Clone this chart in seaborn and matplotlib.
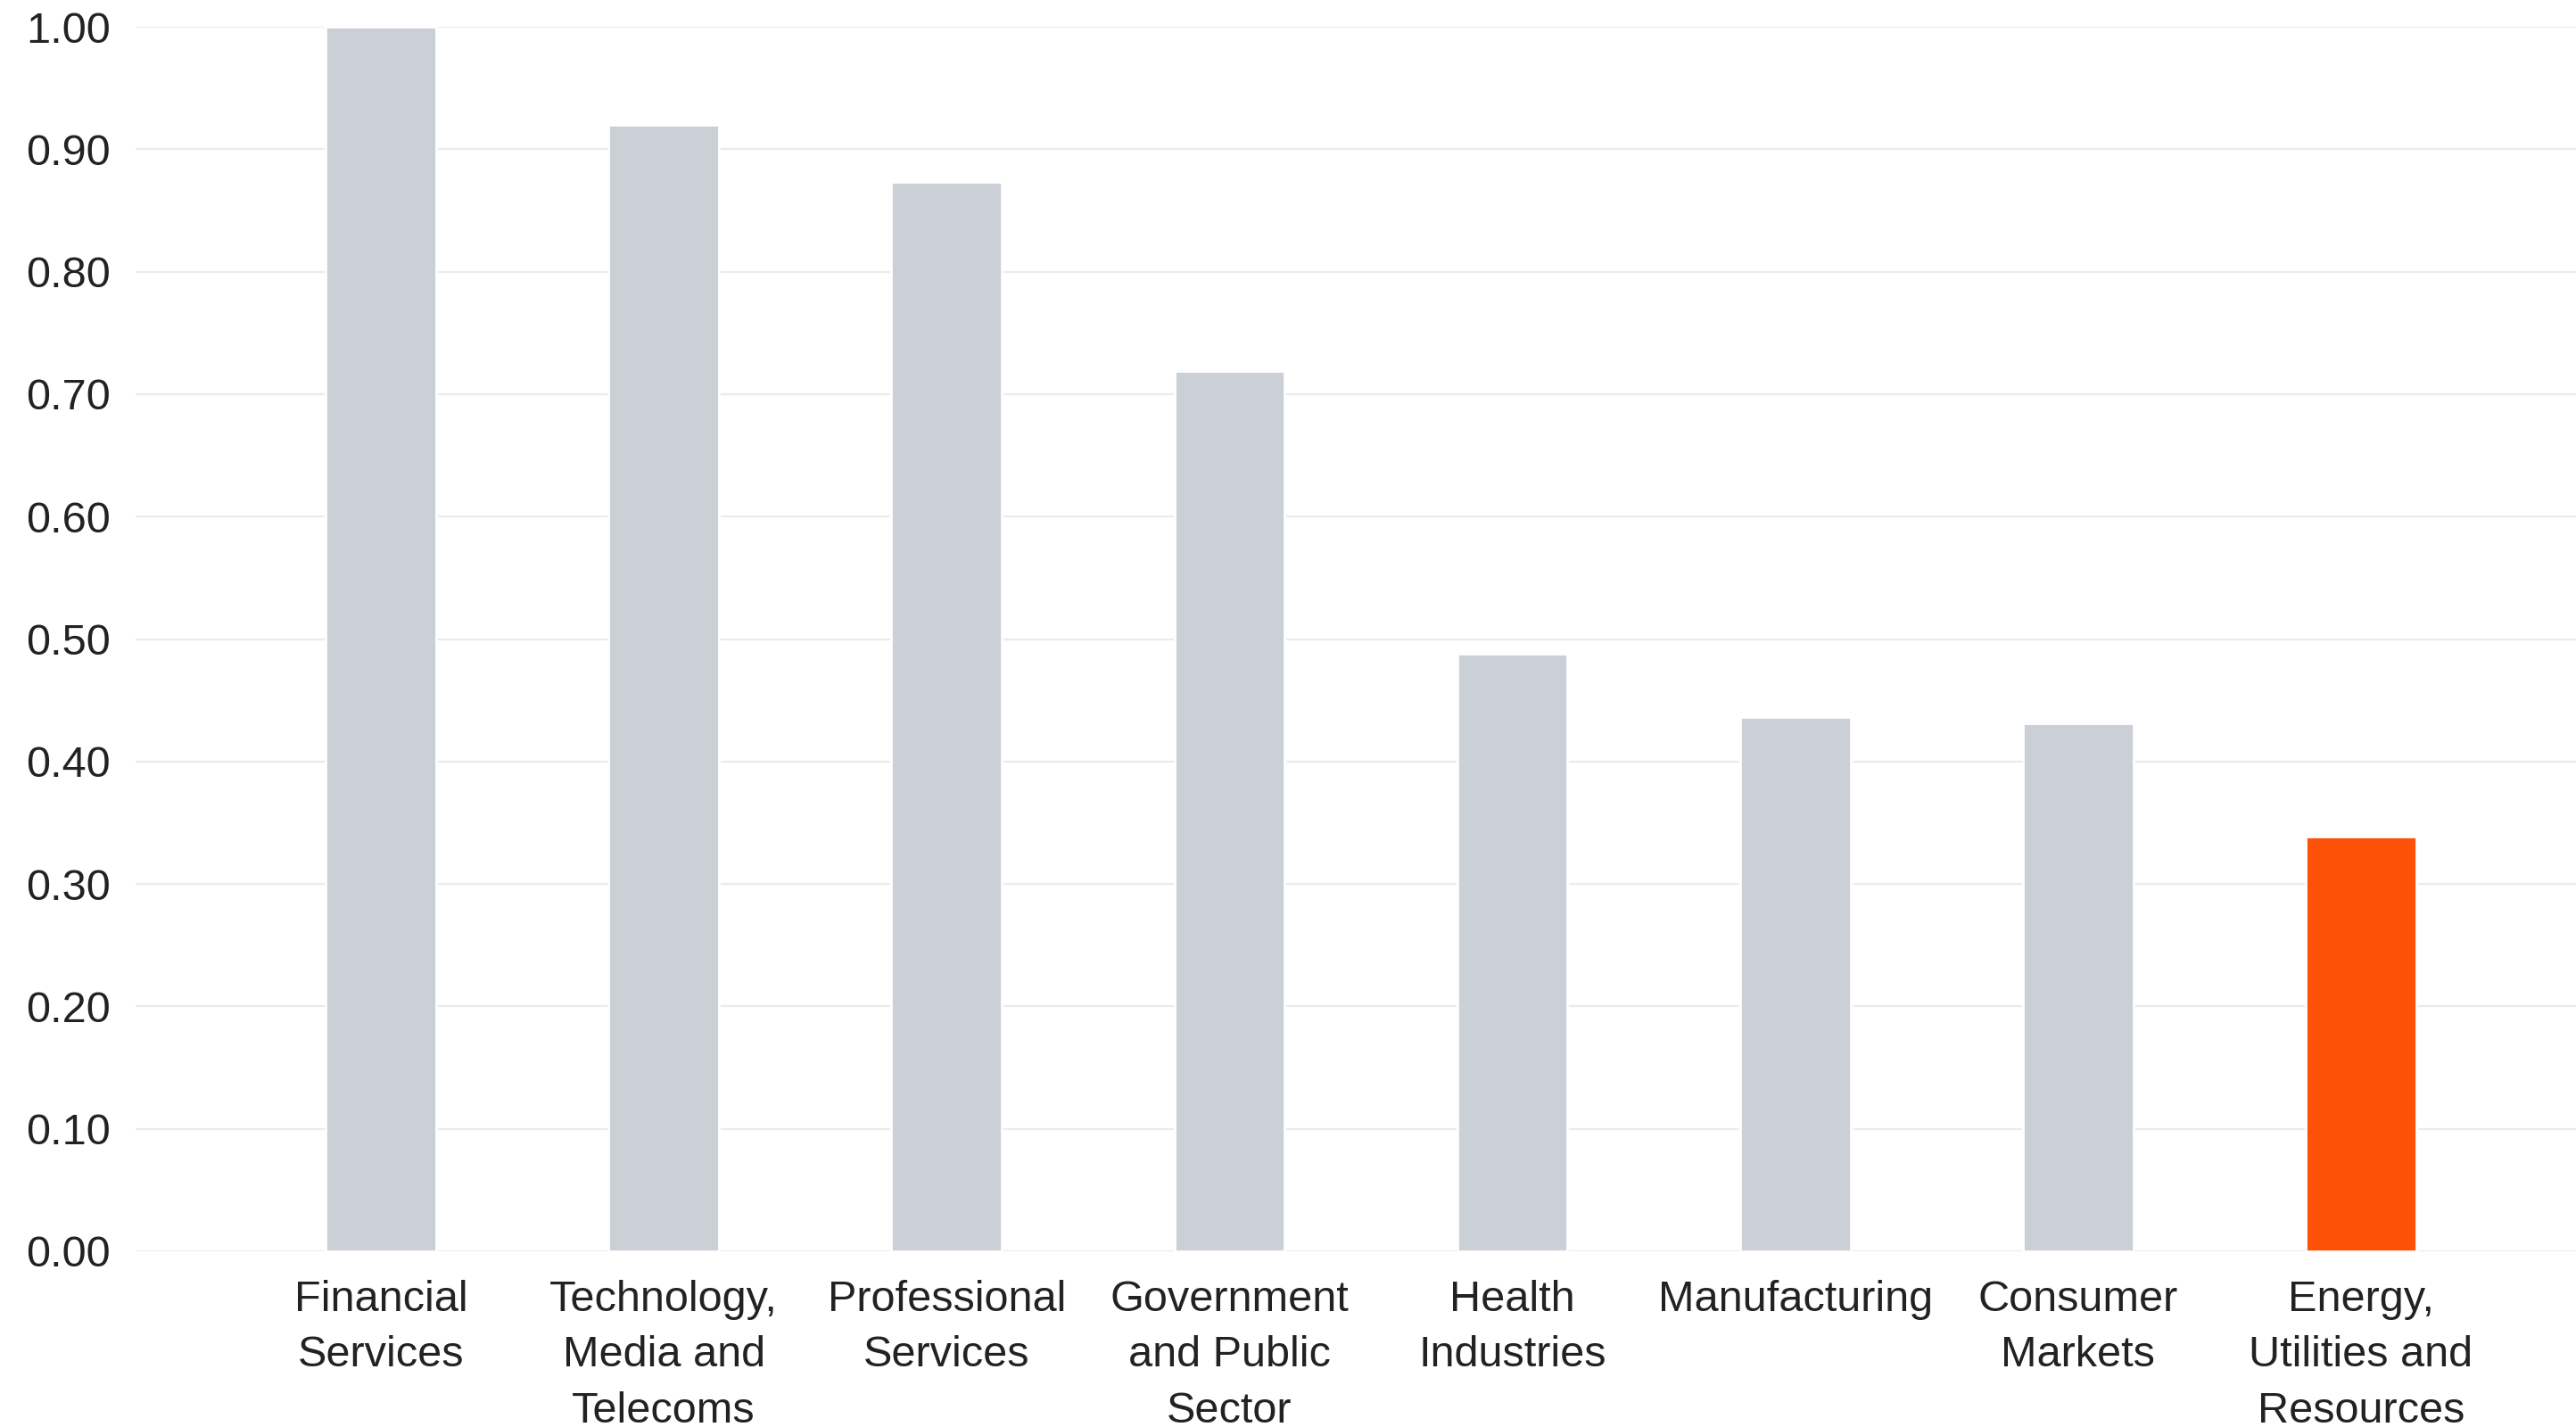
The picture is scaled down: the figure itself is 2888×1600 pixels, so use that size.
import matplotlib
matplotlib.use("Agg")
import matplotlib.pyplot as plt
import seaborn as sns
import pandas as pd

categories = [
    "Financial\nServices",
    "Technology,\nMedia and\nTelecoms",
    "Professional\nServices",
    "Government\nand Public\nSector",
    "Health\nIndustries",
    "Manufacturing",
    "Consumer\nMarkets",
    "Energy,\nUtilities and\nResources",
]
values = [1.00, 0.92, 0.873, 0.719, 0.488, 0.436, 0.431, 0.339]
bar_colors = ["#cbd0d7"] * 7 + ["#fd5108"]
y_ticks = [0.0, 0.1, 0.2, 0.3, 0.4, 0.5, 0.6, 0.7, 0.8, 0.9, 1.0]

sns.set_theme(style="white")
plt.rcParams["font.family"] = ["Liberation Sans", "DejaVu Sans"]

df = pd.DataFrame({"cat": categories, "val": values})
fig = plt.figure(figsize=(14.44, 8.0), dpi=200)
ax = fig.add_axes([152 / 2888, 1 - 1403 / 1600, 1 - 152 / 2888, (1403 - 30) / 1600])

sns.barplot(data=df, x="cat", y="val", hue="cat", order=categories,
            palette=dict(zip(categories, bar_colors)), width=0.39,
            legend=False, ax=ax, saturation=1, zorder=3)

ax.set_ylim(0, 1.0)
ax.set_xlim(-0.867, 7.76)
ax.set_yticks(y_ticks)
ax.set_yticklabels([f"{t:.2f}" for t in y_ticks])
ax.yaxis.grid(True, color="#ebebeb", linewidth=0.8, zorder=0)
ax.set_axisbelow(True)
for s in ax.spines.values():
    s.set_visible(False)
ax.tick_params(axis="both", length=0, labelsize=17.5, colors="#222222")
ax.tick_params(axis="y", pad=10)
ax.tick_params(axis="x", pad=11.5)
for lab in ax.get_xticklabels():
    lab.set_linespacing(1.5)
ax.set_xlabel("")
ax.set_ylabel("")

fig.savefig("out.png", dpi=200)
